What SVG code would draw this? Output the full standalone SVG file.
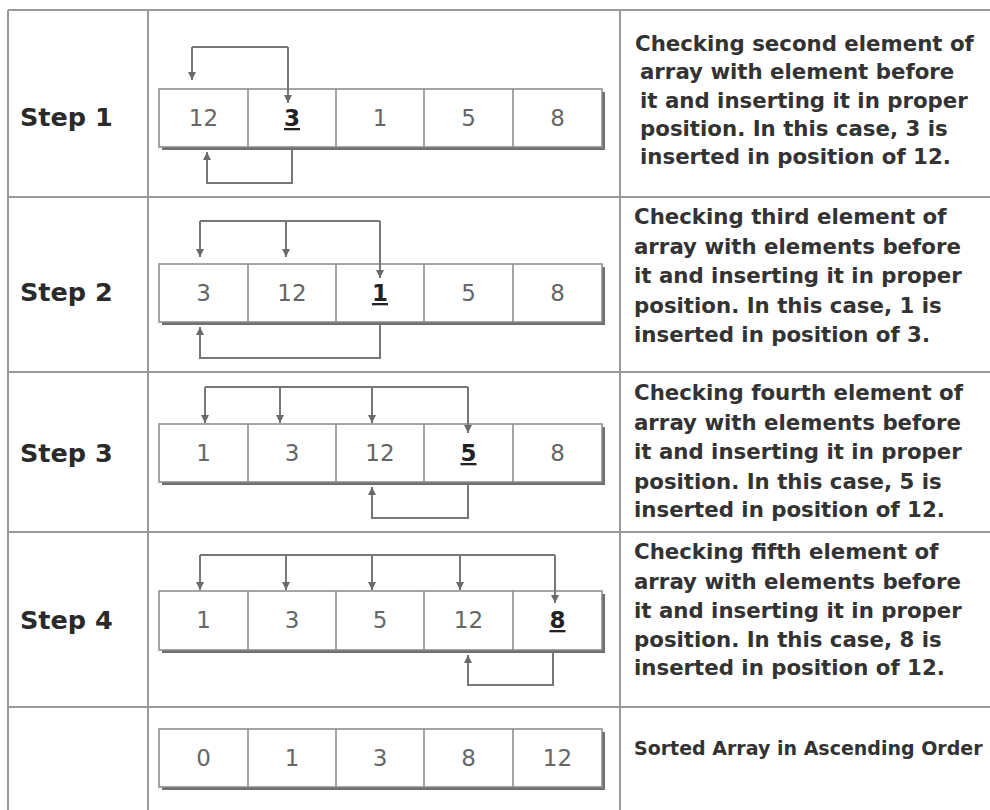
<svg xmlns="http://www.w3.org/2000/svg" width="990" height="810" viewBox="0 0 990 810">
<defs>
<marker id="ah" viewBox="0 0 10 10" refX="10" refY="5" markerWidth="10" markerHeight="8" markerUnits="userSpaceOnUse" orient="auto">
<path d="M0,0 L10,5 L0,10 z" fill="#6a6a6a"/>
</marker>
<style>
.grid{stroke:#9a9a9a;stroke-width:2;fill:none}
.step{font-family:"DejaVu Sans",Verdana,sans-serif;font-weight:bold;font-size:25.5px;fill:#2a2a2a}
.desc{font-family:"DejaVu Sans",Verdana,sans-serif;font-weight:bold;font-size:21.3px;fill:#333}
.sorted{font-family:"DejaVu Sans",Verdana,sans-serif;font-weight:bold;font-size:19px;fill:#333}
.num{font-family:"DejaVu Sans",Verdana,sans-serif;font-size:23px;fill:#666;text-anchor:middle}
.key{font-family:"DejaVu Sans",Verdana,sans-serif;font-size:23px;font-weight:bold;fill:#222;text-anchor:middle;text-decoration:underline}
.shadow{fill:#707070}
.cell{fill:#fff;stroke:#888;stroke-width:1.5}
.br{stroke:#777;stroke-width:2;fill:none}
.ar{stroke:#777;stroke-width:2;fill:none;marker-end:url(#ah)}
</style>
</defs>
<rect width="990" height="810" fill="#fff"/>
<g id="table">
<path class="grid" d="M8,10 H990 M8,197 H990 M8,372 H990 M8,532 H990 M8,707 H990 M8,10 V810 M148,10 V810 M620,10 V810"/>
</g>
<g id="labels">
<text class="step" x="20" y="126">Step 1</text>
<text class="step" x="20" y="301">Step 2</text>
<text class="step" x="20" y="462">Step 3</text>
<text class="step" x="20" y="629">Step 4</text>
</g>
<g id="array1">
<rect class="shadow" x="162" y="92" width="443" height="58"/>
<rect class="cell" x="159" y="89" width="443" height="58"/>
<path class="cell" d="M248,89 V147 M336,89 V147 M424,89 V147 M513,89 V147"/>
<text class="num" x="203.5" y="126">12</text><text class="key" x="292" y="126">3</text><text class="num" x="380" y="126">1</text><text class="num" x="468.5" y="126">5</text><text class="num" x="557.5" y="126">8</text>
</g>
<g id="array2">
<rect class="shadow" x="162" y="267" width="443" height="58"/>
<rect class="cell" x="159" y="264" width="443" height="58"/>
<path class="cell" d="M248,264 V322 M336,264 V322 M424,264 V322 M513,264 V322"/>
<text class="num" x="203.5" y="301">3</text><text class="num" x="292" y="301">12</text><text class="key" x="380" y="301">1</text><text class="num" x="468.5" y="301">5</text><text class="num" x="557.5" y="301">8</text>
</g>
<g id="array3">
<rect class="shadow" x="162" y="427" width="443" height="58"/>
<rect class="cell" x="159" y="424" width="443" height="58"/>
<path class="cell" d="M248,424 V482 M336,424 V482 M424,424 V482 M513,424 V482"/>
<text class="num" x="203.5" y="461">1</text><text class="num" x="292" y="461">3</text><text class="num" x="380" y="461">12</text><text class="key" x="468.5" y="461">5</text><text class="num" x="557.5" y="461">8</text>
</g>
<g id="array4">
<rect class="shadow" x="162" y="594" width="443" height="59"/>
<rect class="cell" x="159" y="591" width="443" height="59"/>
<path class="cell" d="M248,591 V650 M336,591 V650 M424,591 V650 M513,591 V650"/>
<text class="num" x="203.5" y="628">1</text><text class="num" x="292" y="628">3</text><text class="num" x="380" y="628">5</text><text class="num" x="468.5" y="628">12</text><text class="key" x="557.5" y="628">8</text>
</g>
<g id="array5">
<rect class="shadow" x="162" y="732" width="443" height="58"/>
<rect class="cell" x="159" y="729" width="443" height="58"/>
<path class="cell" d="M248,729 V787 M336,729 V787 M424,729 V787 M513,729 V787"/>
<text class="num" x="203.5" y="766">0</text><text class="num" x="292" y="766">1</text><text class="num" x="380" y="766">3</text><text class="num" x="468.5" y="766">8</text><text class="num" x="557.5" y="766">12</text>
</g>
<g id="connectors">
<path class="br" d="M192,47 H288"/>
<path class="ar" d="M192,47 V80"/>
<path class="ar" d="M288,47 V103"/>
<path class="ar" d="M292,147 V183 H207 V152"/>
<path class="br" d="M200,221 H380"/>
<path class="ar" d="M200,221 V257"/>
<path class="ar" d="M286,221 V257"/>
<path class="ar" d="M380,221 V278"/>
<path class="ar" d="M380,322 V358 H200 V327"/>
<path class="br" d="M205,387 H468"/>
<path class="ar" d="M205,387 V423"/>
<path class="ar" d="M280,387 V423"/>
<path class="ar" d="M372,387 V423"/>
<path class="ar" d="M468,387 V433"/>
<path class="ar" d="M468,482 V518 H372 V487"/>
<path class="br" d="M200,555 H555"/>
<path class="ar" d="M200,555 V590"/>
<path class="ar" d="M286,555 V590"/>
<path class="ar" d="M372,555 V590"/>
<path class="ar" d="M460,555 V590"/>
<path class="ar" d="M555,555 V603"/>
<path class="ar" d="M553,650 V685 H468 V655"/>
</g>
<g id="desc1">
<text class="desc" x="635" y="51">Checking second element of</text>
<text class="desc" x="640" y="79">array with element before</text>
<text class="desc" x="640" y="108">it and inserting it in proper</text>
<text class="desc" x="640" y="136">position. In this case, 3 is</text>
<text class="desc" x="640" y="164">inserted in position of 12.</text>
</g>
<g id="desc2">
<text class="desc" x="634" y="224">Checking third element of</text>
<text class="desc" x="634" y="253.5">array with elements before</text>
<text class="desc" x="634" y="283">it and inserting it in proper</text>
<text class="desc" x="634" y="312.5">position. In this case, 1 is</text>
<text class="desc" x="634" y="342">inserted in position of 3.</text>
</g>
<g id="desc3">
<text class="desc" x="634" y="400">Checking fourth element of</text>
<text class="desc" x="634" y="430">array with elements before</text>
<text class="desc" x="634" y="459">it and inserting it in proper</text>
<text class="desc" x="634" y="489">position. In this case, 5 is</text>
<text class="desc" x="634" y="517">inserted in position of 12.</text>
</g>
<g id="desc4">
<text class="desc" x="634" y="559">Checking fifth element of</text>
<text class="desc" x="634" y="589">array with elements before</text>
<text class="desc" x="634" y="618">it and inserting it in proper</text>
<text class="desc" x="634" y="647">position. In this case, 8 is</text>
<text class="desc" x="634" y="675">inserted in position of 12.</text>
</g>
<g id="desc5">
<text class="sorted" x="634" y="755">Sorted Array in Ascending Order</text>
</g>
</svg>
